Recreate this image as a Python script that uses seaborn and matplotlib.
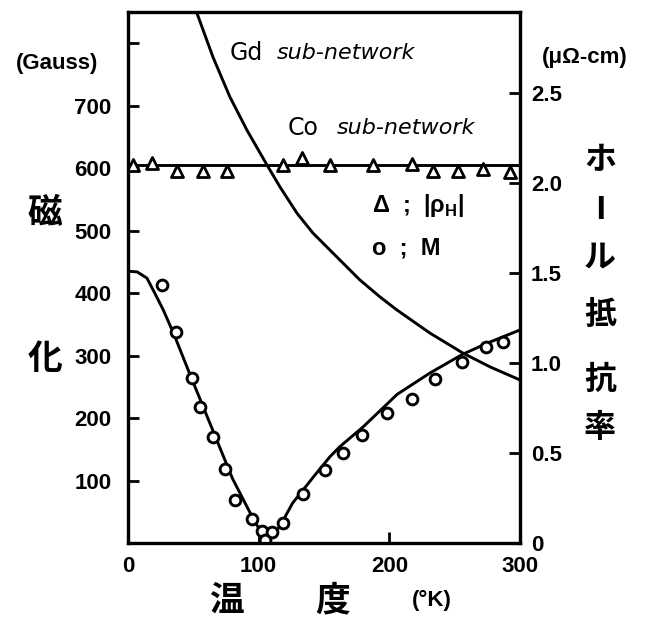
import matplotlib
matplotlib.use("Agg")
import matplotlib.pyplot as plt
import seaborn as sns

# magnetization M, measured points (K, Gauss)
m_temp = [26, 37, 49, 55, 65, 74, 82, 95, 102.5, 105, 110, 119, 134, 151,
          164.5, 179, 198, 217, 235, 255.5, 274, 287]
m_gauss = [413, 338, 264, 218, 170, 118, 69, 38, 19, 5, 18, 32, 78, 117,
           144, 173, 208, 230, 262, 290, 313, 322]

# solid curve through M
m_fit_temp = [0, 7, 14.5, 20.5, 27, 35, 47, 63, 80, 96, 102, 106, 110, 116,
              126, 142, 154.5, 162, 180, 198, 206, 231, 256, 275, 300]
m_fit_gauss = [435, 434, 424, 400, 373, 335, 272, 190, 103, 38, 17, 5, 10, 26,
               64, 106, 138, 154, 186, 222, 238, 272, 302, 320, 341]

# Gd sub-network curve
gd_temp = [52.8, 65, 78, 91, 106.4, 116.3, 129.3, 141.6, 154.5, 177.5,
           192.8, 205.8, 231.1, 256.3, 277, 300]
gd_gauss = [848, 778, 714, 661, 605, 570, 528, 496, 469, 421,
            394, 373, 336, 304, 282, 261]

# Co sub-network (flat)
co_temp = [0, 300]
co_gauss = [605, 605]

# Hall resistivity |rho_H| (uOhm-cm)
hall_temp = [3.8, 18.4, 37.5, 57.4, 75.7, 118.6, 133.1, 154.5, 187.5, 217.4,
             233.4, 252.5, 271.7, 292.3]
hall_rho = [2.10, 2.11, 2.07, 2.07, 2.07, 2.10, 2.14, 2.10, 2.10, 2.105,
            2.07, 2.07, 2.08, 2.06]

x_ticks = [0, 100, 200, 300]
left_ticks = [100, 200, 300, 400, 500, 600, 700, 800]
left_labels = ["100", "200", "300", "400", "500", "600", "700", ""]
right_ticks = [0, 0.5, 1.0, 1.5, 2.0, 2.5]
right_labels = ["0", "0.5", "1.0", "1.5", "2.0", "2.5"]

sns.set_style("ticks")
plt.rcParams["font.family"] = ["Liberation Sans", "DejaVu Sans"]
for key in ["text.color", "axes.labelcolor", "xtick.color", "ytick.color",
            "axes.edgecolor"]:
    plt.rcParams[key] = "black"
jp = ["Noto Sans CJK JP", "DejaVu Sans"]

fig = plt.figure(figsize=(6.5, 6.19), dpi=100)
ax = fig.add_axes([128 / 650, 1 - 543 / 619, 392 / 650, 531 / 619])
ax2 = ax.twinx()

lw = 2.1
sns.lineplot(x=m_fit_temp, y=m_fit_gauss, ax=ax, color="black", lw=lw,
             sort=False, estimator=None)
sns.lineplot(x=gd_temp, y=gd_gauss, ax=ax, color="black", lw=lw,
             sort=False, estimator=None)
sns.lineplot(x=co_temp, y=co_gauss, ax=ax, color="black", lw=lw,
             sort=False, estimator=None)
sns.scatterplot(x=m_temp, y=m_gauss, ax=ax, marker="o", s=60,
                facecolor="white", edgecolor="black", linewidth=2.1, zorder=5)
sns.scatterplot(x=hall_temp, y=hall_rho, ax=ax2, marker="^", s=75,
                facecolor="white", edgecolor="black", linewidth=2.0, zorder=5)

ax.set_xlim(0, 300)
ax.set_ylim(0, 850)
ax2.set_ylim(0, 850 / 288)

for a in (ax, ax2):
    for sp in a.spines.values():
        sp.set_linewidth(2.3)
        sp.set_visible(True)

ax.set_xticks(x_ticks)
ax.set_xticklabels([str(t) for t in x_ticks])
ax.set_yticks(left_ticks)
ax.set_yticklabels(left_labels)
ax2.set_yticks(right_ticks)
ax2.set_yticklabels(right_labels)

ax.tick_params(axis="both", direction="in", length=8, width=2,
               labelsize=16, pad=12)
ax.tick_params(axis="x", pad=9)
ax2.tick_params(axis="y", direction="in", length=8, width=2,
                labelsize=16, pad=8)
for lab in ax.get_xticklabels() + ax.get_yticklabels() + ax2.get_yticklabels():
    lab.set_fontweight("bold")

ax.set_xlabel("")
ax.set_ylabel("")
ax2.set_ylabel("")

# curve labels
ax.text(78, 784, "Gd", fontsize=17, family="DejaVu Sans", va="center")
ax.text(114, 784, "sub-network", fontsize=16, family="DejaVu Sans",
        style="italic", va="center")
ax.text(122, 664, "Co", fontsize=17, family="DejaVu Sans", va="center")
ax.text(160, 664, "sub-network", fontsize=16, family="DejaVu Sans",
        style="italic", va="center")
ax.text(187, 541, "Δ  ;  |ρ$_\\mathregular{H}$|", fontsize=17,
        fontweight="bold", va="center")
ax.text(187, 472, "o  ;  M", fontsize=17, fontweight="bold", va="center")

# units and Japanese axis titles
fig.text(57 / 650, 1 - 64 / 619, "(Gauss)", fontsize=16, fontweight="bold",
         ha="center", va="center")
fig.text(585 / 650, 1 - 57 / 619, "(μΩ-cm)", fontsize=16, fontweight="bold",
         ha="center", va="center")
for ch, y in [("磁", 213), ("化", 358)]:
    fig.text(45 / 650, 1 - y / 619, ch, fontsize=25, family=jp,
             fontweight="bold", ha="center", va="center")
for ch, x in [("温", 226), ("度", 333)]:
    fig.text(x / 650, 1 - 600 / 619, ch, fontsize=25, family=jp,
             fontweight="bold", ha="center", va="center")
fig.text(432 / 650, 1 - 600 / 619, "(°K)", fontsize=16, fontweight="bold",
         ha="center", va="center")
for ch, y in [("ホ", 160), ("I", 210), ("ル", 257), ("抵", 315),
              ("抗", 380), ("率", 428)]:
    fig.text(600 / 650, 1 - y / 619, ch, fontsize=23, family=jp,
             fontweight="bold", ha="center", va="center")

fig.savefig("out.png", dpi=100)
